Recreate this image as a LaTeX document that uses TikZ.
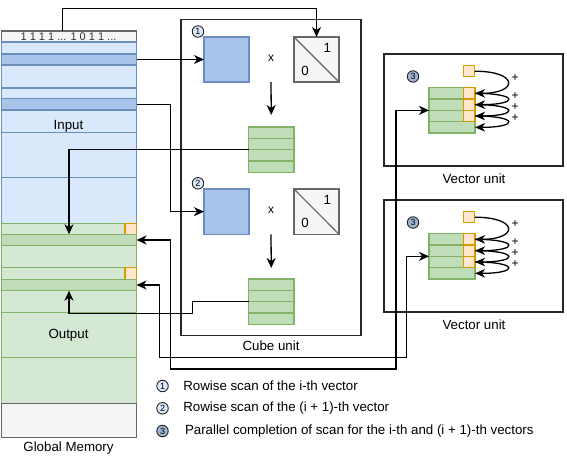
\documentclass[tikz,border=0pt]{standalone}
\usepackage{fontspec}
\setmainfont{Liberation Sans}
\usetikzlibrary{arrows.meta,calc}
\definecolor{bluefill}{HTML}{DAE8FC}
\definecolor{bluedark}{HTML}{A9C4EB}
\definecolor{bluestroke}{HTML}{6C8EBF}
\definecolor{greenfill}{HTML}{D5E8D4}
\definecolor{greendark}{HTML}{BFDDB8}
\definecolor{greenstroke}{HTML}{82B366}
\definecolor{orfill}{HTML}{FFE6CC}
\definecolor{orstroke}{HTML}{D79B00}
\definecolor{grayfill}{HTML}{F5F5F5}
\definecolor{graystroke}{HTML}{666666}
\definecolor{numdark}{HTML}{9FB4D2}
% name, style, x1, y1, x2, y2
\newcommand\rbox[6]{\node[#2, minimum width={(#5)-(#3)}, minimum height={(#6)-(#4)}] (#1) at ({((#3)+(#5))/2},{((#4)+(#6))/2}) {};}
\begin{document}
\begin{tikzpicture}[x=1pt,y=-1pt,
  every node/.style={inner sep=0pt, outer sep=0pt},
  sh/.style={rectangle, line width=1.1pt},
  mb/.style={sh, draw=bluestroke, fill=bluefill},
  mbd/.style={sh, draw=bluestroke, fill=bluedark},
  mg/.style={sh, draw=greenstroke, fill=greenfill},
  mgd/.style={sh, draw=greenstroke, fill=greendark},
  mgr/.style={sh, draw=graystroke, fill=grayfill},
  org/.style={sh, draw=orstroke, fill=orfill},
  ghost/.style={rectangle},
  frame/.style={rectangle, draw=black!85, line width=1.3pt},
  txt/.style={font=\fontsize{13.3}{16}\selectfont},
  smalltxt/.style={font=\fontsize{11}{13}\selectfont, text=black!80},
  plus/.style={font=\fontsize{12}{14}\selectfont},
  num/.style={circle, draw=black!85, line width=0.9pt, fill=bluefill, minimum size=11.5pt, font=\fontsize{9}{10}\selectfont},
  num3/.style={num, fill=numdark},
  conn/.style={line width=1.3pt, -{Stealth[length=10pt,width=9pt,inset=3pt]}},
  conn2/.style={line width=1.3pt, {Stealth[length=10pt,width=9pt,inset=3pt]}-{Stealth[length=10pt,width=9pt,inset=3pt]}},
  curv/.style={line width=1.3pt, -{Stealth[length=10pt,width=8.5pt,inset=3pt]}}
]
\useasboundingbox (0,0) rectangle (567,460);

% ---------------- Global memory ----------------
\rbox{m0}{mgr}{1.5}{31}{136.5}{42}
\node[smalltxt] (hdr) at (68.5,36.8) {1 1 1 1 ... 1 0 1 1 ...};
\rbox{m1}{mb}{1.5}{42}{136.5}{54}
\rbox{m2}{mbd}{1.5}{54}{136.5}{65}
\rbox{m3}{mb}{1.5}{65}{136.5}{88}
\rbox{m4}{mb}{1.5}{88}{136.5}{98.3}
\rbox{m5}{mbd}{1.5}{98.3}{136.5}{110}
\rbox{m6}{mb}{1.5}{110}{136.5}{132.7}
\rbox{m7}{mb}{1.5}{132.7}{136.5}{177.3}
\rbox{m8}{mb}{1.5}{177.3}{136.5}{223.3}
\rbox{m9}{mg}{1.5}{223.3}{136.5}{234.3}
\rbox{o1}{org}{125}{223.3}{136.5}{234.3}
\rbox{m10}{mgd}{1.5}{234.3}{136.5}{245.7}
\rbox{m11}{mg}{1.5}{245.7}{136.5}{267.7}
\rbox{m12}{mg}{1.5}{267.7}{136.5}{279.3}
\rbox{o2}{org}{125}{267.7}{136.5}{279.3}
\rbox{m13}{mgd}{1.5}{279.3}{136.5}{290.7}
\rbox{m14}{mg}{1.5}{290.7}{136.5}{312.7}
\rbox{m15}{mg}{1.5}{312.7}{136.5}{357.7}
\rbox{m16}{mg}{1.5}{357.7}{136.5}{403.3}
\rbox{m17}{mgr}{1.5}{403.3}{136.5}{437.3}
\node[txt] (inlab) at (68.5,126.7) {Input};
\node[txt] (outlab) at (68.5,335) {Output};
\node[txt] (gmlab) at (68.5,448) {Global Memory};

% ---------------- Cube unit ----------------
\rbox{cube}{frame}{181}{19.5}{361}{335.5}
\node[txt] (cubelab) at (271,346) {Cube unit};
% stage 1
\node[num] (n1) at (198,31.5) {1};
\rbox{b1}{mbd}{204}{37}{249}{82}
\node[plus] (x1) at (271,58) {x};
\rbox{g1}{mgr}{294}{37}{339}{82}
\draw[graystroke, line width=1.1pt] (g1.north west) -- (g1.south east);
\node[txt] (one1) at (327.3,47.7) {1};
\node[txt] (zero1) at (305,70.5) {0};
\rbox{cs1}{mgd}{248.5}{127}{294}{172.3}
\foreach \yy in {138.3,149.65,161}{\draw[greenstroke, line width=1.1pt] (248.5,\yy) -- (294,\yy);}
% stage 2
\node[num] (n2) at (198,183.3) {2};
\rbox{b2}{mbd}{204}{189}{249}{234.3}
\node[plus] (x2) at (271,210.5) {x};
\rbox{g2}{mgr}{294}{189}{339}{234.3}
\draw[graystroke, line width=1.1pt] (g2.north west) -- (g2.south east);
\node[txt] (one2) at (327.3,200) {1};
\node[txt] (zero2) at (305,222.7) {0};
\rbox{cs2}{mgd}{248.5}{279}{294}{324.3}
\foreach \yy in {290.3,301.65,313}{\draw[greenstroke, line width=1.1pt] (248.5,\yy) -- (294,\yy);}

% ---------------- Vector units ----------------
\foreach \k/\dy in {1/0,2/146}{
  \rbox{vu\k}{frame}{384}{54+\dy}{563}{166+\dy}
  \node[txt] (vul\k) at (474,178.3+\dy) {Vector unit};
  \node[num3] (n3\k) at (413,76.5+\dy) {3};
  \rbox{vo\k}{org}{463.3}{65.7+\dy}{474.7}{76.7+\dy}
  \rbox{vr\k a}{mgd}{429}{87.7+\dy}{475}{99+\dy}
  \rbox{vr\k b}{mgd}{429}{99+\dy}{475}{110.3+\dy}
  \rbox{vr\k c}{mgd}{429}{110.3+\dy}{475}{121.7+\dy}
  \rbox{vr\k d}{mgd}{429}{121.7+\dy}{475}{133+\dy}
  \rbox{vq\k a}{org}{463.3}{87.7+\dy}{475}{99+\dy}
  \rbox{vq\k b}{org}{463.3}{99+\dy}{475}{110.3+\dy}
  \rbox{vq\k c}{org}{463.3}{110.3+\dy}{475}{121.7+\dy}
  \rbox{vs\k}{ghost}{429}{87.7+\dy}{475}{133+\dy}
  \draw[curv] (vo\k.east) .. controls +(44,0) and +(44,0) .. (vr\k a.east);
  \draw[curv] (vq\k a.east) .. controls +(44,0) and +(44,0) .. (vr\k b.east);
  \draw[curv] (vq\k b.east) .. controls +(44,0) and +(44,0) .. (vr\k c.east);
  \draw[curv] (vq\k c.east) .. controls +(44,0) and +(44,0) .. (vr\k d.east);
  \node[plus] (p\k a) at (515,78+\dy) {+};
  \node[plus] (p\k b) at (515,96+\dy) {+};
  \node[plus] (p\k c) at (515,107+\dy) {+};
  \node[plus] (p\k d) at (515,118+\dy) {+};
}

% ---------------- Connectors ----------------
\coordinate (c1) at (62.7,8.3);
\draw[conn] (m0.north -| c1) -- (c1) -| (g1.north);
\draw[conn] (m2.east) -- (b1.west);
\draw[conn] (m5.east) -- ++(34.2,0) |- (b2.west);
\draw[conn] (b1.south -| x1) -- ([yshift=12pt]cs1.north);
\draw[conn] (b2.south -| x2) -- ([yshift=11pt]cs2.north);
\draw[conn] (cs1.west) -| (m9.south);
\coordinate (c5) at (192.7,313.3);
\draw[conn] (cs2.west) -| (c5) -| (m13.south);
\coordinate (c6) at (396,369);
\draw[conn2] (m10.east) -- ++(34.2,0) |- (c6) |- (vs1.west);
\coordinate (c7) at (406.7,357.7);
\draw[conn2] (m13.east) -- ++(22.8,0) |- (c7) |- (vs2.west);

% ---------------- Legend ----------------
\node[num] (l1) at (162.5,386) {1};
\node[txt, anchor=west] (lt1) at (183.3,386) {Rowise scan of the i-th vector};
\node[num] (l2) at (162.5,408.3) {2};
\node[txt, anchor=west] (lt2) at (183.3,408.3) {Rowise scan of the (i + 1)-th vector};
\node[num3] (l3) at (162.5,431) {3};
\node[txt, anchor=west] (lt3) at (185,431) {Parallel completion of scan for the i-th and (i + 1)-th vectors};
\end{tikzpicture}
\end{document}
